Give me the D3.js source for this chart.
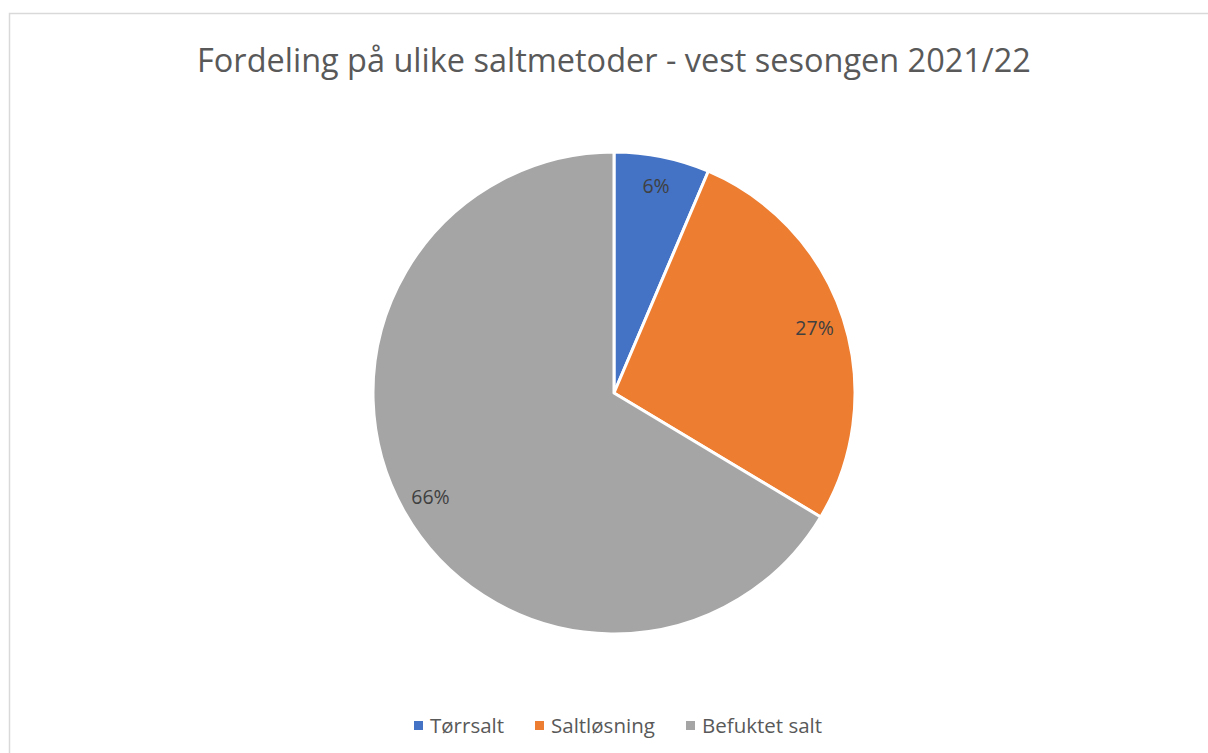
<!DOCTYPE html>
<html>
<head>
<meta charset="utf-8">
<script src="https://cdn.jsdelivr.net/npm/d3@7"></script>
<style>
  body { margin: 0; background: #fff; }
  svg { display: block; font-family: "Open Sans", "Noto Sans", sans-serif; }
</style>
</head>
<body>
<svg id="chart" width="1208" height="753"></svg>
<script>
// data
var categories = ["Tørrsalt", "Saltløsning", "Befuktet salt"];
var shares = [6.4, 27.2, 66.4];
var labels = ["6%", "27%", "66%"];
var colors = ["#4472C4", "#ED7D31", "#A5A5A5"];

var title = "Fordeling på ulike saltmetoder - vest sesongen 2021/22";

var svg = d3.select("#chart");

// outer chart border (only top and left visible in the crop)
svg.append("rect")
    .attr("x", 9.5).attr("y", 13.5)
    .attr("width", 1300).attr("height", 800)
    .attr("fill", "none")
    .attr("stroke", "#d9d9d9")
    .attr("stroke-width", 1.5);

// title, sized to span the same width as the reference
var t = svg.append("text")
    .attr("x", 614).attr("y", 72)
    .attr("text-anchor", "middle")
    .attr("fill", "#595959")
    .attr("font-size", 28)
    .text(title);
var w = t.node().getComputedTextLength();
t.attr("font-size", 28 * 834 / w);

var cx = 614, cy = 393, R = 241;

var pie = d3.pie().sort(null).value(function(d) { return d; });
var arc = d3.arc().innerRadius(0).outerRadius(R);
var labelArc = d3.arc().innerRadius(R * 0.875).outerRadius(R * 0.875);

var g = svg.append("g").attr("transform", "translate(" + cx + "," + cy + ")");
var arcs = pie(shares);

g.selectAll("path")
    .data(arcs)
  .enter().append("path")
    .attr("d", arc)
    .attr("fill", function(d, i) { return colors[i]; })
    .attr("stroke", "#fff")
    .attr("stroke-width", 3)
    .attr("stroke-linejoin", "round");

g.selectAll("text.lbl")
    .data(arcs)
  .enter().append("text")
    .attr("class", "lbl")
    .attr("transform", function(d) { return "translate(" + labelArc.centroid(d) + ")"; })
    .attr("text-anchor", "middle")
    .attr("dy", ".35em")
    .attr("fill", "#404040")
    .attr("font-size", 19.5)
    .text(function(d, i) { return labels[i]; });

// legend
var legendX = [414, 535, 686];
var leg = svg.selectAll("g.leg")
    .data(categories)
  .enter().append("g")
    .attr("class", "leg")
    .attr("transform", function(d, i) { return "translate(" + legendX[i] + ",726)"; });

leg.append("rect")
    .attr("x", 0).attr("y", -5)
    .attr("width", 9).attr("height", 9)
    .attr("fill", function(d, i) { return colors[i]; });

leg.append("text")
    .attr("x", 16)
    .attr("dy", ".35em")
    .attr("fill", "#595959")
    .attr("font-size", 20.5)
    .text(function(d) { return d; });
</script>
</body>
</html>
